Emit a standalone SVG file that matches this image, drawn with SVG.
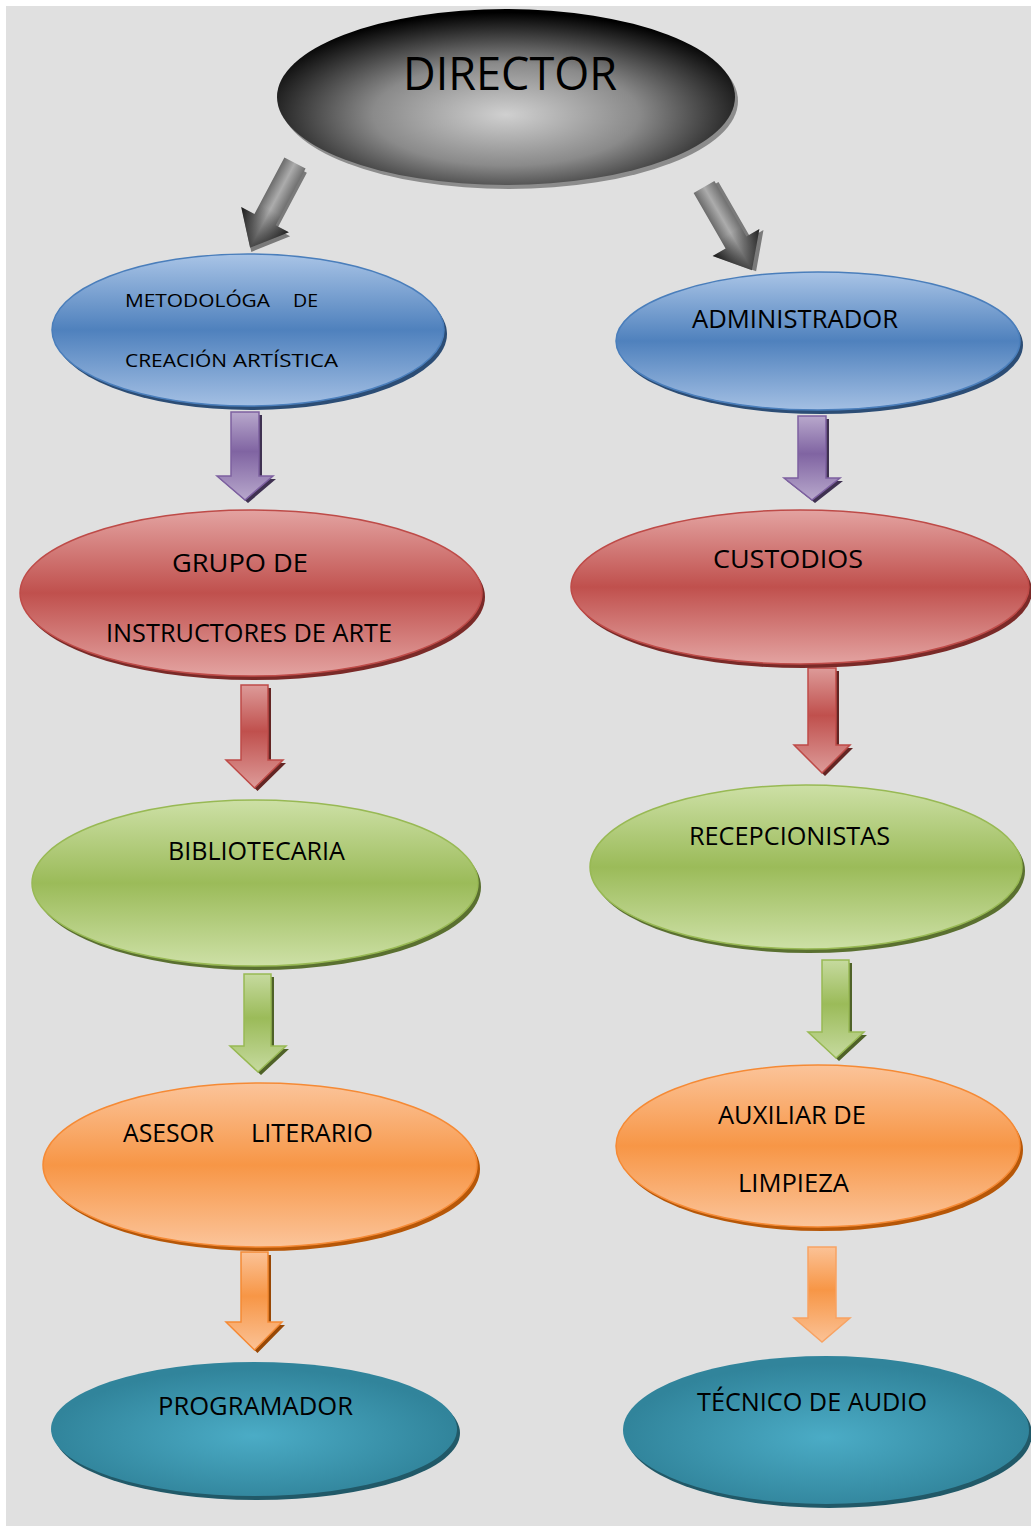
<svg xmlns="http://www.w3.org/2000/svg" width="1031" height="1532" viewBox="0 0 1031 1532">
<defs>
<style>
text{font-family:"Open Sans","Noto Sans","Liberation Sans",sans-serif;fill:#000;}
.t26{font-size:26px;}
.t19{font-size:19px;}
.t46{font-size:46px;}
</style>
<radialGradient id="gDir" cx="50%" cy="60%" r="58%">
<stop offset="0" stop-color="#d0d0d0"/><stop offset="0.5" stop-color="#8a8a8a"/><stop offset="1" stop-color="#000"/>
</radialGradient>
<linearGradient id="gBlue" x1="0" y1="0" x2="0" y2="1">
<stop offset="0" stop-color="#a9c4e6"/><stop offset="0.5" stop-color="#4f81bd"/><stop offset="1" stop-color="#a3bfe3"/>
</linearGradient>
<linearGradient id="gRed" x1="0" y1="0" x2="0" y2="1">
<stop offset="0" stop-color="#e3a3a1"/><stop offset="0.5" stop-color="#c0504d"/><stop offset="1" stop-color="#e3a3a1"/>
</linearGradient>
<linearGradient id="gGreen" x1="0" y1="0" x2="0" y2="1">
<stop offset="0" stop-color="#cde0a6"/><stop offset="0.5" stop-color="#9bbb59"/><stop offset="1" stop-color="#cde0a6"/>
</linearGradient>
<linearGradient id="gOrange" x1="0" y1="0" x2="0" y2="1">
<stop offset="0" stop-color="#fbc49a"/><stop offset="0.5" stop-color="#f79646"/><stop offset="1" stop-color="#fbc49a"/>
</linearGradient>
<radialGradient id="gTeal" cx="50%" cy="55%" r="50%">
<stop offset="0" stop-color="#4bacc6"/><stop offset="1" stop-color="#31849b"/>
</radialGradient>
<linearGradient id="aPurple" x1="0" y1="0" x2="0" y2="1">
<stop offset="0" stop-color="#b8a8cc"/><stop offset="0.45" stop-color="#8064a2"/><stop offset="1" stop-color="#b8a8cc"/>
</linearGradient>
<linearGradient id="aRed" x1="0" y1="0" x2="0" y2="1">
<stop offset="0" stop-color="#dd9b99"/><stop offset="0.45" stop-color="#c0504d"/><stop offset="1" stop-color="#dd9b99"/>
</linearGradient>
<linearGradient id="aGreen" x1="0" y1="0" x2="0" y2="1">
<stop offset="0" stop-color="#c6da9f"/><stop offset="0.45" stop-color="#9bbb59"/><stop offset="1" stop-color="#c6da9f"/>
</linearGradient>
<linearGradient id="aOrange" x1="0" y1="0" x2="0" y2="1">
<stop offset="0" stop-color="#fbc296"/><stop offset="0.45" stop-color="#f79646"/><stop offset="1" stop-color="#fbc296"/>
</linearGradient>
<linearGradient id="aGray" x1="0" y1="0" x2="1" y2="0">
<stop offset="0" stop-color="#1a1a1a"/><stop offset="0.5" stop-color="#acacac"/><stop offset="1" stop-color="#262626"/>
</linearGradient>
<linearGradient id="aGrayTip" x1="0" y1="0" x2="0" y2="1">
<stop offset="0" stop-color="#000" stop-opacity="0"/><stop offset="0.55" stop-color="#000" stop-opacity="0"/><stop offset="1" stop-color="#000" stop-opacity="0.6"/>
</linearGradient>
</defs>
<rect x="0" y="0" width="1031" height="1532" fill="#fff"/>
<rect x="6" y="6" width="1025" height="1520" fill="#e0e0e0"/>

<g id="connectors">
<g id="arrow-dir-left" transform="translate(295,163) rotate(27.9)">
<path d="M-12 0 L12 0 L12 64 L27 64 L0 96 L-27 64 L-12 64 Z" fill="#7a7a7a" transform="translate(3,3)"/>
<path d="M-12 0 L12 0 L12 64 L27 64 L0 96 L-27 64 L-12 64 Z" fill="url(#aGray)"/>
<path d="M-12 0 L12 0 L12 64 L27 64 L0 96 L-27 64 L-12 64 Z" fill="url(#aGrayTip)"/>
</g>
<g id="arrow-dir-right" transform="translate(704,187) rotate(-30)">
<path d="M-12 0 L12 0 L12 64 L27 64 L0 96 L-27 64 L-12 64 Z" fill="#7a7a7a" transform="translate(3,3)"/>
<path d="M-12 0 L12 0 L12 64 L27 64 L0 96 L-27 64 L-12 64 Z" fill="url(#aGray)"/>
<path d="M-12 0 L12 0 L12 64 L27 64 L0 96 L-27 64 L-12 64 Z" fill="url(#aGrayTip)"/>
</g>
<g id="arrow-met-grupo">
<path d="M231 412 L259 412 L259 476 L273 476 L245 500 L217 476 L231 476 Z" fill="#3f3151" transform="translate(3,3)"/>
<path d="M231 412 L259 412 L259 476 L273 476 L245 500 L217 476 L231 476 Z" fill="url(#aPurple)" stroke="#7d60a0" stroke-width="1.5"/>
</g>
<g id="arrow-adm-cus">
<path d="M798 416 L826 416 L826 478 L840 478 L812 500 L784 478 L798 478 Z" fill="#3f3151" transform="translate(3,3)"/>
<path d="M798 416 L826 416 L826 478 L840 478 L812 500 L784 478 L798 478 Z" fill="url(#aPurple)" stroke="#7d60a0" stroke-width="1.5"/>
</g>
<g id="arrow-grupo-bib">
<path d="M241 685 L268 685 L268 760 L283 760 L254.5 788 L226 760 L241 760 Z" fill="#632523" transform="translate(3,3)"/>
<path d="M241 685 L268 685 L268 760 L283 760 L254.5 788 L226 760 L241 760 Z" fill="url(#aRed)" stroke="#be4b48" stroke-width="1.5"/>
</g>
<g id="arrow-cus-rec">
<path d="M808 668 L836 668 L836 745 L850 745 L822 773 L794 745 L808 745 Z" fill="#632523" transform="translate(3,3)"/>
<path d="M808 668 L836 668 L836 745 L850 745 L822 773 L794 745 L808 745 Z" fill="url(#aRed)" stroke="#be4b48" stroke-width="1.5"/>
</g>
<g id="arrow-bib-ase">
<path d="M244 974 L271 974 L271 1046 L286 1046 L258 1072 L230 1046 L244 1046 Z" fill="#4f6228" transform="translate(3,3)"/>
<path d="M244 974 L271 974 L271 1046 L286 1046 L258 1072 L230 1046 L244 1046 Z" fill="url(#aGreen)" stroke="#98b954" stroke-width="1.5"/>
</g>
<g id="arrow-rec-aux">
<path d="M822 960 L849 960 L849 1032 L864 1032 L836 1058 L808 1032 L822 1032 Z" fill="#4f6228" transform="translate(3,3)"/>
<path d="M822 960 L849 960 L849 1032 L864 1032 L836 1058 L808 1032 L822 1032 Z" fill="url(#aGreen)" stroke="#98b954" stroke-width="1.5"/>
</g>
<g id="arrow-ase-prog">
<path d="M241 1252 L268 1252 L268 1322 L282 1322 L254.5 1350 L226 1322 L241 1322 Z" fill="#974806" transform="translate(3,3)"/>
<path d="M241 1252 L268 1252 L268 1322 L282 1322 L254.5 1350 L226 1322 L241 1322 Z" fill="url(#aOrange)" stroke="#f58a35" stroke-width="1.5"/>
</g>
<g id="arrow-aux-tec">
<path d="M808 1247 L836 1247 L836 1318 L850 1318 L822 1342 L794 1318 L808 1318 Z" fill="url(#aOrange)" stroke="#f8a363" stroke-width="1.5"/>
</g>
</g>

<g id="node-director">
<ellipse cx="509" cy="101" rx="229" ry="88" fill="#8c8c8c"/>
<ellipse cx="506" cy="97" rx="229" ry="88" fill="url(#gDir)"/>
<text class="t46" x="403" y="90" textLength="214" lengthAdjust="spacingAndGlyphs">DIRECTOR</text>
</g>

<g id="node-metodologia">
<ellipse cx="251" cy="334" rx="196" ry="76" fill="#2c4d75"/>
<ellipse cx="248" cy="330" rx="196" ry="76" fill="url(#gBlue)" stroke="#4a7ebb" stroke-width="1.5"/>
<text class="t19" x="125" y="307" textLength="145" lengthAdjust="spacingAndGlyphs">METODOLÓGA</text>
<text class="t19" x="293" y="307" textLength="25" lengthAdjust="spacingAndGlyphs">DE</text>
<text class="t19" x="125" y="367" textLength="102" lengthAdjust="spacingAndGlyphs">CREACIÓN</text>
<text class="t19" x="233" y="367" textLength="105" lengthAdjust="spacingAndGlyphs">ARTÍSTICA</text>
</g>

<g id="node-administrador">
<ellipse cx="821" cy="345" rx="202" ry="69" fill="#2c4d75"/>
<ellipse cx="818" cy="341" rx="202" ry="69" fill="url(#gBlue)" stroke="#4a7ebb" stroke-width="1.5"/>
<text class="t26" x="692" y="328" textLength="206" lengthAdjust="spacingAndGlyphs">ADMINISTRADOR</text>
</g>

<g id="node-grupo">
<ellipse cx="254" cy="597" rx="231" ry="83" fill="#7a2a28"/>
<ellipse cx="251" cy="593" rx="231" ry="83" fill="url(#gRed)" stroke="#be4b48" stroke-width="1.5"/>
<text class="t26" x="172" y="572" textLength="136" lengthAdjust="spacingAndGlyphs">GRUPO DE</text>
<text class="t26" x="106" y="642" textLength="286" lengthAdjust="spacingAndGlyphs">INSTRUCTORES DE ARTE</text>
</g>

<g id="node-custodios">
<ellipse cx="803" cy="591" rx="229" ry="77" fill="#7a2a28"/>
<ellipse cx="800" cy="587" rx="229" ry="77" fill="url(#gRed)" stroke="#be4b48" stroke-width="1.5"/>
<text class="t26" x="713" y="568" textLength="150" lengthAdjust="spacingAndGlyphs">CUSTODIOS</text>
</g>

<g id="node-bibliotecaria">
<ellipse cx="258" cy="887" rx="223" ry="83" fill="#5a7030"/>
<ellipse cx="255" cy="883" rx="223" ry="83" fill="url(#gGreen)" stroke="#98b954" stroke-width="1.5"/>
<text class="t26" x="168" y="860" textLength="177" lengthAdjust="spacingAndGlyphs">BIBLIOTECARIA</text>
</g>

<g id="node-recepcionistas">
<ellipse cx="809" cy="871" rx="216" ry="82" fill="#5a7030"/>
<ellipse cx="806" cy="867" rx="216" ry="82" fill="url(#gGreen)" stroke="#98b954" stroke-width="1.5"/>
<text class="t26" x="689" y="845" textLength="201" lengthAdjust="spacingAndGlyphs">RECEPCIONISTAS</text>
</g>

<g id="node-asesor">
<ellipse cx="263" cy="1169" rx="217" ry="82" fill="#b65708"/>
<ellipse cx="260" cy="1165" rx="217" ry="82" fill="url(#gOrange)" stroke="#f58a35" stroke-width="1.5"/>
<text class="t26" x="123" y="1142" textLength="91" lengthAdjust="spacingAndGlyphs">ASESOR</text>
<text class="t26" x="251" y="1142" textLength="122" lengthAdjust="spacingAndGlyphs">LITERARIO</text>
</g>

<g id="node-auxiliar">
<ellipse cx="821" cy="1150" rx="202" ry="81" fill="#b65708"/>
<ellipse cx="818" cy="1146" rx="202" ry="81" fill="url(#gOrange)" stroke="#f58a35" stroke-width="1.5"/>
<text class="t26" x="718" y="1124" textLength="148" lengthAdjust="spacingAndGlyphs">AUXILIAR DE</text>
<text class="t26" x="738" y="1192" textLength="111" lengthAdjust="spacingAndGlyphs">LIMPIEZA</text>
</g>

<g id="node-programador">
<ellipse cx="257" cy="1433" rx="203" ry="67" fill="#215968"/>
<ellipse cx="254" cy="1429" rx="203" ry="67" fill="url(#gTeal)"/>
<text class="t26" x="158" y="1415" textLength="195" lengthAdjust="spacingAndGlyphs">PROGRAMADOR</text>
</g>

<g id="node-tecnico">
<ellipse cx="829" cy="1434" rx="203" ry="74" fill="#215968"/>
<ellipse cx="826" cy="1430" rx="203" ry="74" fill="url(#gTeal)"/>
<text class="t26" x="697" y="1411" textLength="230" lengthAdjust="spacingAndGlyphs">TÉCNICO DE AUDIO</text>
</g>
</svg>
